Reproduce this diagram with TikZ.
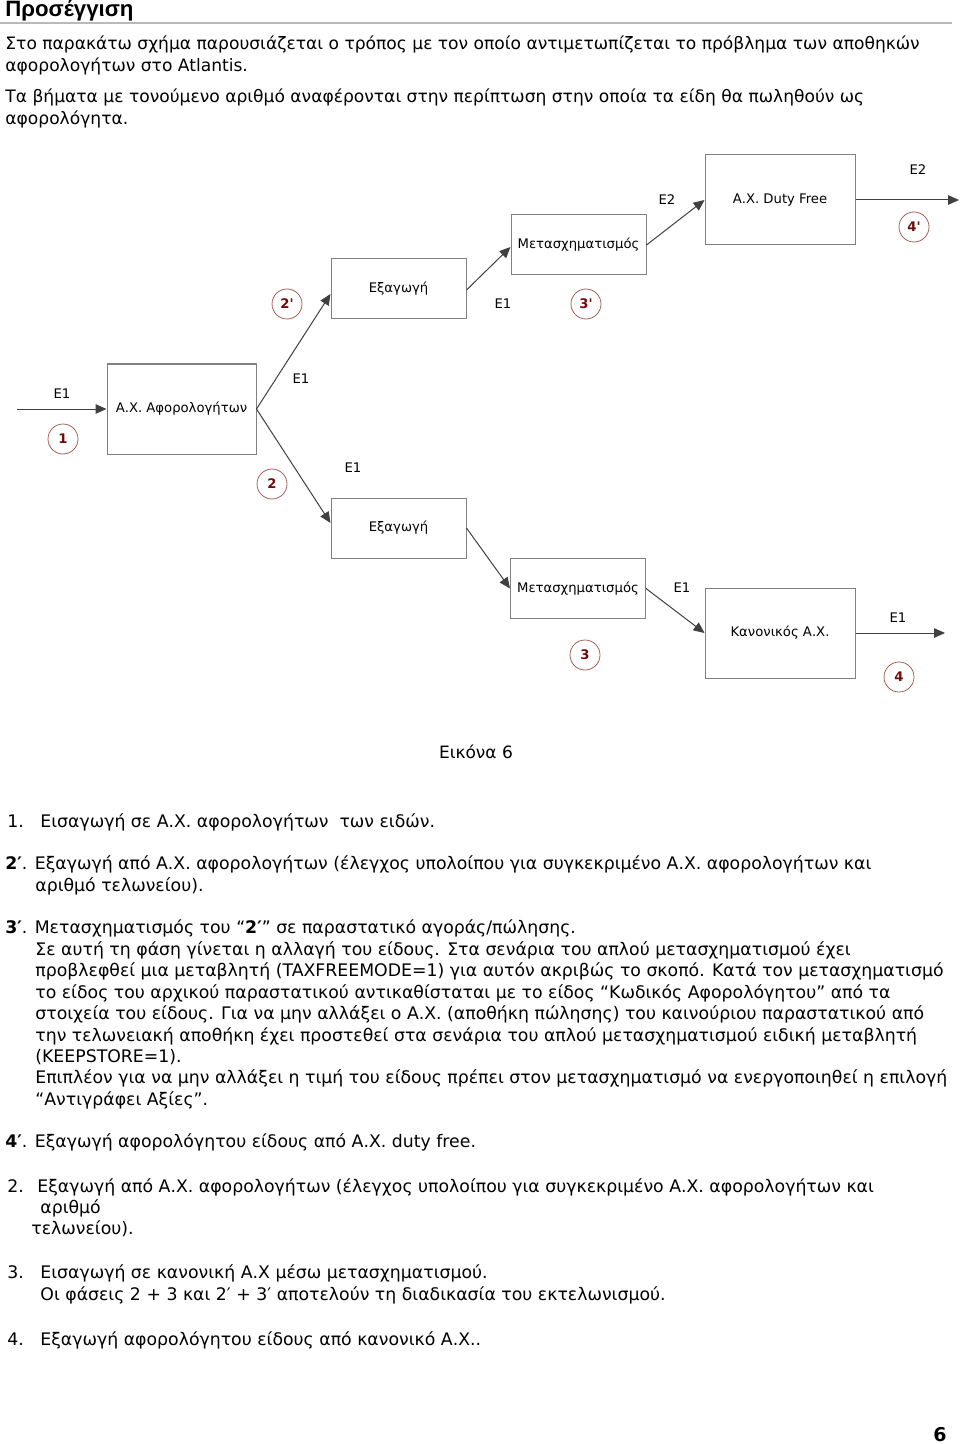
\documentclass[tikz,border=0pt]{standalone}
\usepackage{fontspec}
\setmainfont{DejaVu Sans}
\newfontfamily\headfont{Liberation Sans}
\newfontfamily\numfont{DejaVu Sans}
\usetikzlibrary{arrows.meta, positioning}
\definecolor{boxgray}{RGB}{128,128,128}
\definecolor{ringred}{RGB}{165,95,85}
\definecolor{numred}{RGB}{115,10,10}
\definecolor{rulegray}{RGB}{185,185,185}

\begin{document}
\begin{tikzpicture}[x=0.5pt, y=-0.5pt,
  box/.style={draw=boxgray, line width=0.5pt, minimum width=67.5pt, minimum height=30pt, inner sep=0pt, font=\fontsize{6.6}{8}\selectfont},
  bigbox/.style={box, minimum width=75pt, minimum height=45pt},
  flow/.style={draw=black!75, line width=0.5pt, -{Triangle[length=5.5pt,width=4.8pt]}},
  lbl/.style={inner sep=0pt, font=\fontsize{6.6}{8}\selectfont},
  stepno/.style={circle, draw=ringred, line width=0.4pt, minimum size=15pt, inner sep=0pt, text=numred, font=\numfont\fontsize{6.6}{8}\selectfont\bfseries},
  txt/.style={anchor=mid west, inner sep=0pt, font=\fontsize{8.65}{10}\selectfont}]
 \useasboundingbox (0,0) rectangle (960,1444);
 % heading
 \node[anchor=mid west, inner sep=0pt, font=\headfont\fontsize{11.1}{13}\selectfont\bfseries] (head) at (5,11) {Προσέγγιση};
 \draw[rulegray, line width=0.6pt] (0,23) -- (952,23);
 \foreach \y/\t in {44/{Στο παρακάτω σχήμα παρουσιάζεται ο τρόπος με τον οποίο αντιμετωπίζεται το πρόβλημα των αποθηκών},
                   66/{αφορολογήτων στο Atlantis.},
                   97/{Τα βήματα με τονούμενο αριθμό αναφέρονται στην περίπτωση στην οποία τα είδη θα πωληθούν ως},
                   119/{αφορολόγητα.}}{
   \node[txt, font=\fontsize{8.55}{10}\selectfont] (intro-\y) at (5,\y) {\t};
 }
 % diagram boxes
 \node[bigbox, minimum width=74.5pt] (afor) at (181.5,409) {Α.Χ. Αφορολογήτων};
 \node[box] (exup) at (398.5,289) {Εξαγωγή};
 \node[box] (exlow) at (398.5,528) {Εξαγωγή};
 \node[box] (metup) at (578.5,245) {Μετασχηματισμός};
 \node[box] (metlow) at (578,588.5) {Μετασχηματισμός};
 \node[bigbox] (df) at (780,200) {Α.Χ. Duty Free};
 \node[bigbox] (kan) at (780,633) {Κανονικός Α.Χ.};
 \coordinate (src) at (17,409);
 \coordinate (dfout) at (959,200);
 \coordinate (kanout) at (945,633);
 % connectors
 \draw[flow] (src) -- (afor.west);
 \draw[flow] (afor.east) -- ([yshift=-2.5pt]exup.west);
 \draw[flow] (afor.east) -- ([yshift=2.5pt]exlow.west);
 \draw[flow] ([yshift=-0.5pt]exup.east) -- ([yshift=-1pt]metup.west);
 \draw[flow] (metup.east) -- (df.west);
 \draw[flow] (df.east) -- (dfout);
 \draw[flow] (exlow.east) -- (metlow.west);
 \draw[flow] (metlow.east) -- (kan.west);
 \draw[flow] (kan.east) -- (kanout);
 % flow labels
 \foreach \x/\y/\t [count=\i] in {62/394/E1, 301/379/E1, 353/468/E1, 503/304/E1, 667/200/E2, 918/170/E2, 682/588/E1, 898/618/E1}{
   \node[lbl] (e-\i) at (\x,\y) {\t};
 }
 % step numbers
 \foreach \x/\y/\t/\n in {63/439/1/s1, 272/484/2/s2, 287/304/2'/s2p, 586/304/3'/s3p, 914/227/4'/s4p, 585/655/3/s3, 899/677/4/s4}{
   \node[stepno] (\n) at (\x,\y) {\t};
 }
 \node[inner sep=0pt, font=\fontsize{8.5}{10}\selectfont] (caption) at (476,752) {Εικόνα 6};
 % notes
 \node[txt] (n1) at (7,822) {1.};
 \node[txt] (n1t) at (40,822) {Εισαγωγή σε Α.Χ. αφορολογήτων\ \ των ειδών.};
 \node[txt] (n2p) at (5,864) {\textbf{2′}. Εξαγωγή από Α.Χ. αφορολογήτων (έλεγχος υπολοίπου για συγκεκριμένο Α.Χ. αφορολογήτων και};
 \node[txt] (n2pb) at (35,886) {αριθμό τελωνείου).};
 \node[txt] (n3p) at (5,928) {\textbf{3′}. Μετασχηματισμός του “\textbf{2′}” σε παραστατικό αγοράς/πώλησης.};
 \foreach \y/\t in {950/{Σε αυτή τη φάση γίνεται η αλλαγή του είδους. Στα σενάρια του απλού μετασχηματισμού έχει},
                   971/{προβλεφθεί μια μεταβλητή (TAXFREEMODE=1) για αυτόν ακριβώς το σκοπό. Κατά τον μετασχηματισμό},
                   993/{το είδος του αρχικού παραστατικού αντικαθίσταται με το είδος “Κωδικός Αφορολόγητου” από τα},
                   1014/{στοιχεία του είδους. Για να μην αλλάξει ο Α.Χ. (αποθήκη πώλησης) του καινούριου παραστατικού από},
                   1036/{την τελωνειακή αποθήκη έχει προστεθεί στα σενάρια του απλού μετασχηματισμού ειδική μεταβλητή},
                   1057/{(KEEPSTORE=1).},
                   1078/{Επιπλέον για να μην αλλάξει η τιμή του είδους πρέπει στον μετασχηματισμό να ενεργοποιηθεί η επιλογή},
                   1100/{“Αντιγράφει Αξίες”.}}{
   \node[txt] (n3p-\y) at (35,\y) {\t};
 }
 \node[txt] (n4p) at (5,1142) {\textbf{4′}. Εξαγωγή αφορολόγητου είδους από Α.Χ. duty free.};
 \node[txt] (n2) at (7,1187) {2.};
 \node[txt] (n2t) at (37,1187) {Εξαγωγή από Α.Χ. αφορολογήτων (έλεγχος υπολοίπου για συγκεκριμένο Α.Χ. αφορολογήτων και};
 \node[txt] (n2b) at (40,1208) {αριθμό};
 \node[txt] (n2c) at (31,1229) {τελωνείου).};
 \node[txt] (n3) at (7,1273) {3.};
 \node[txt] (n3t) at (40,1273) {Εισαγωγή σε κανονική Α.Χ μέσω μετασχηματισμού.};
 \node[txt] (n3b) at (40,1295) {Οι φάσεις 2 + 3 και 2′ + 3′ αποτελούν τη διαδικασία του εκτελωνισμού.};
 \node[txt] (n4) at (7,1340) {4.};
 \node[txt] (n4t) at (40,1340) {Εξαγωγή αφορολόγητου είδους από κανονικό Α.Χ..};
 \node[inner sep=0pt, font=\fontsize{9.5}{11}\selectfont\bfseries] (page) at (940,1435) {6};
\end{tikzpicture}
\end{document}
